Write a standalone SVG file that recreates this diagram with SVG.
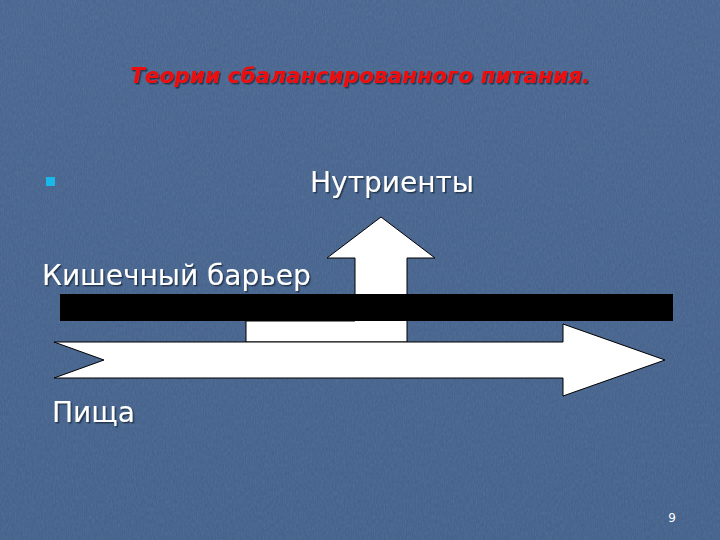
<svg xmlns="http://www.w3.org/2000/svg" width="720" height="540" viewBox="0 0 720 540">
<defs>
<linearGradient id="bg" x1="0" y1="0" x2="0" y2="1">
<stop offset="0" stop-color="#4a6791"/>
<stop offset="1" stop-color="#44628c"/>
</linearGradient>
<filter id="tex" x="0" y="0" width="100%" height="100%">
<feTurbulence type="fractalNoise" baseFrequency="0.9 0.25" numOctaves="3" seed="4" result="n"/>
<feColorMatrix type="matrix" values="0 0 0 0 1  0 0 0 0 1  0 0 0 0 1  0 0 0 0.35 -0.1"/>
</filter>
<filter id="sh" x="-5%" y="-20%" width="110%" height="140%">
<feDropShadow dx="1.5" dy="1.5" stdDeviation="0.6" flood-color="#1a2a40" flood-opacity="0.8"/>
</filter>
</defs>
<style>
.t{font-family:"DejaVu Sans","Noto Sans",sans-serif;fill:#ffffff;font-size:28px}
.w{fill:#ffffff;stroke:#000000;stroke-width:1}
</style>
<rect width="720" height="540" fill="url(#bg)"/>
<rect width="720" height="540" filter="url(#tex)" opacity="0.35"/>
<g id="title"><text x="130" y="83" textLength="460" lengthAdjust="spacingAndGlyphs" font-family="'DejaVu Sans',sans-serif" font-size="21" font-weight="bold" font-style="italic" fill="#ee1111" filter="url(#sh)">Теории сбалансированного питания.</text></g>
<g id="bullet"><rect x="46" y="177" width="9" height="9" fill="#19b8e8"/></g>
<g id="nutrients"><text class="t" x="310" y="192" filter="url(#sh)">Нутриенты</text></g>
<g id="barrier-label"><text class="t" x="42" y="285" filter="url(#sh)">Кишечный барьер</text></g>
<g id="food-label"><text class="t" x="52" y="422" filter="url(#sh)">Пища</text></g>
<g id="page"><text x="672" y="522" text-anchor="middle" font-family="'DejaVu Sans',sans-serif" font-size="12" fill="#ffffff">9</text></g>
<g id="connectors">
<g id="up-arrow"><polygon class="w" points="246,342 246,321 355,321 355,258 327,258 381,217 435,258 407,258 407,342"/></g>
<g id="barrier"><rect x="60" y="294" width="613" height="27" fill="#000000"/></g>
<g id="food-arrow"><polygon class="w" points="54,342 563,342 563,324 665,360 563,396 563,378 54,378 104,360"/></g>
</g>
</svg>
